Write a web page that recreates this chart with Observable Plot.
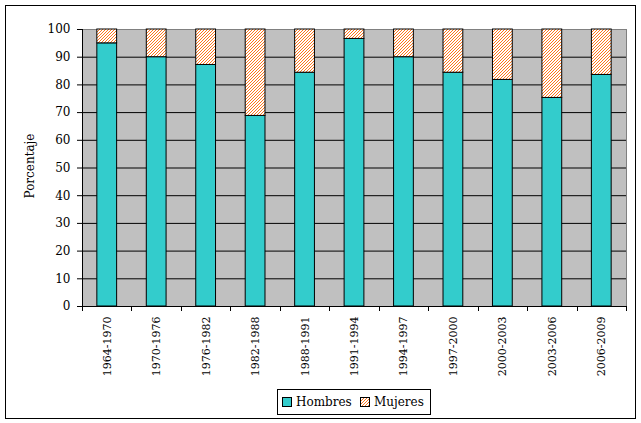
<!DOCTYPE html>
<html>
<head>
<meta charset="utf-8">
<script src="https://cdn.jsdelivr.net/npm/d3@7"></script>
<script src="https://cdn.jsdelivr.net/npm/@observablehq/plot@0.6"></script>
<style>
  html, body { margin: 0; padding: 0; background: white; }
  #chart { position: relative; width: 641px; height: 423px; }
</style>
</head>
<body>
<div id="chart"></div>
<script>
const periodos = ["1964-1970","1970-1976","1976-1982","1982-1988","1988-1991","1991-1994","1994-1997","1997-2000","2000-2003","2003-2006","2006-2009"];
const hombres = [95, 90, 87.2, 68.8, 84.4, 96.6, 90, 84.4, 81.8, 75.3, 83.6];
const mujeres = [5, 10, 12.8, 31.2, 15.6, 3.4, 10, 15.6, 18.2, 24.7, 16.4];
const yTicks = [0, 10, 20, 30, 40, 50, 60, 70, 80, 90, 100];
const gridValues = [10, 20, 30, 40, 50, 60, 70, 80, 90];
const series = ["Hombres", "Mujeres"];
const yLabel = "Porcentaje";
const colorHombres = "#33CCCC";
const serif = "DejaVu Serif, serif";

const data = periodos.map((p, i) => ({periodo: p, hombres: hombres[i], total: hombres[i] + mujeres[i]}));

const plot = Plot.plot({
  width: 641,
  height: 423,
  marginLeft: 82,
  marginRight: 15,
  marginTop: 29,
  marginBottom: 117,
  style: {fontFamily: serif, fontSize: "12px", color: "black", background: "transparent", overflow: "visible"},
  x: {domain: periodos, paddingInner: 0.6, paddingOuter: 0.3, round: false},
  y: {domain: [0, 100]},
  marks: [
    Plot.frame({fill: "#C0C0C0", stroke: "#808080"}),
    Plot.ruleY(gridValues, {stroke: "black", strokeWidth: 1}),
    Plot.barY(data, {x: "periodo", y1: 0, y2: "hombres", fill: colorHombres, stroke: "black", strokeWidth: 1}),
    Plot.barY(data, {x: "periodo", y1: "hombres", y2: "total", fill: "url(#hatch)", stroke: "black", strokeWidth: 1}),
    Plot.ruleY([0], {stroke: "black"}),
    Plot.axisY({ticks: yTicks, tickSize: 5, tickPadding: 7, label: null, fontSize: 12}),
    Plot.text([yLabel], {frameAnchor: "left", textAnchor: "middle", rotate: -90, dx: -52, dy: -2, fontFamily: serif, fontSize: 12, fill: "black"}),
    Plot.axisX({tickSize: 0, tickPadding: 10, tickRotate: -90, label: null, fontSize: 11})
  ]
});

document.getElementById("chart").appendChild(plot);

const svg = d3.select(plot);
// hatch pattern definition
const defs = svg.insert("defs", ":first-child");
const pat = defs.append("pattern").attr("id", "hatch").attr("patternUnits", "userSpaceOnUse")
  .attr("width", 3).attr("height", 3);
pat.append("rect").attr("width", 3).attr("height", 3).attr("fill", "white");
pat.append("path").attr("d", "M-1,1 l2,-2 M0,3 l3,-3 M2,4 l2,-2").attr("stroke", "#FF6600").attr("stroke-width", 0.9);

// left axis line and tick marks at category boundaries
const xs = plot.scale("x");
const ys = plot.scale("y");
const step = xs.step;
const half = xs.paddingInner * step / 2;
const y0 = ys.apply(0), y100 = ys.apply(100);
const g = svg.append("g").attr("stroke", "black").attr("stroke-width", 1);
const leftX = Math.round(xs.apply(periodos[0]) - half);
g.append("line").attr("x1", leftX + 0.5).attr("x2", leftX + 0.5).attr("y1", y100).attr("y2", y0 + 5);
periodos.forEach(p => {
  const bx = xs.apply(p) + xs.bandwidth + half;
  g.append("line").attr("x1", Math.round(bx) + 0.5).attr("x2", Math.round(bx) + 0.5).attr("y1", y0).attr("y2", y0 + 5);
});

// outer border
svg.append("rect").attr("x", 5.5).attr("y", 5.5).attr("width", 630).attr("height", 413)
  .attr("fill", "none").attr("stroke", "black");

// legend
const lg = svg.append("g").attr("font-family", serif).attr("font-size", "12px").attr("text-anchor", "start");
lg.append("rect").attr("x", 277.5).attr("y", 389.5).attr("width", 153).attr("height", 25)
  .attr("fill", "white").attr("stroke", "black");
const items = [{name: series[0], fill: colorHombres, sx: 282, tx: 296}, {name: series[1], fill: "url(#hatch)", sx: 360, tx: 374}];
items.forEach(it => {
  lg.append("rect").attr("x", it.sx + 0.5).attr("y", 397.5).attr("width", 9).attr("height", 9)
    .attr("fill", it.fill).attr("stroke", "black");
  lg.append("text").attr("x", it.tx).attr("y", 402).attr("dy", "0.35em").attr("text-anchor", "start").text(it.name);
});
</script>
</body>
</html>
